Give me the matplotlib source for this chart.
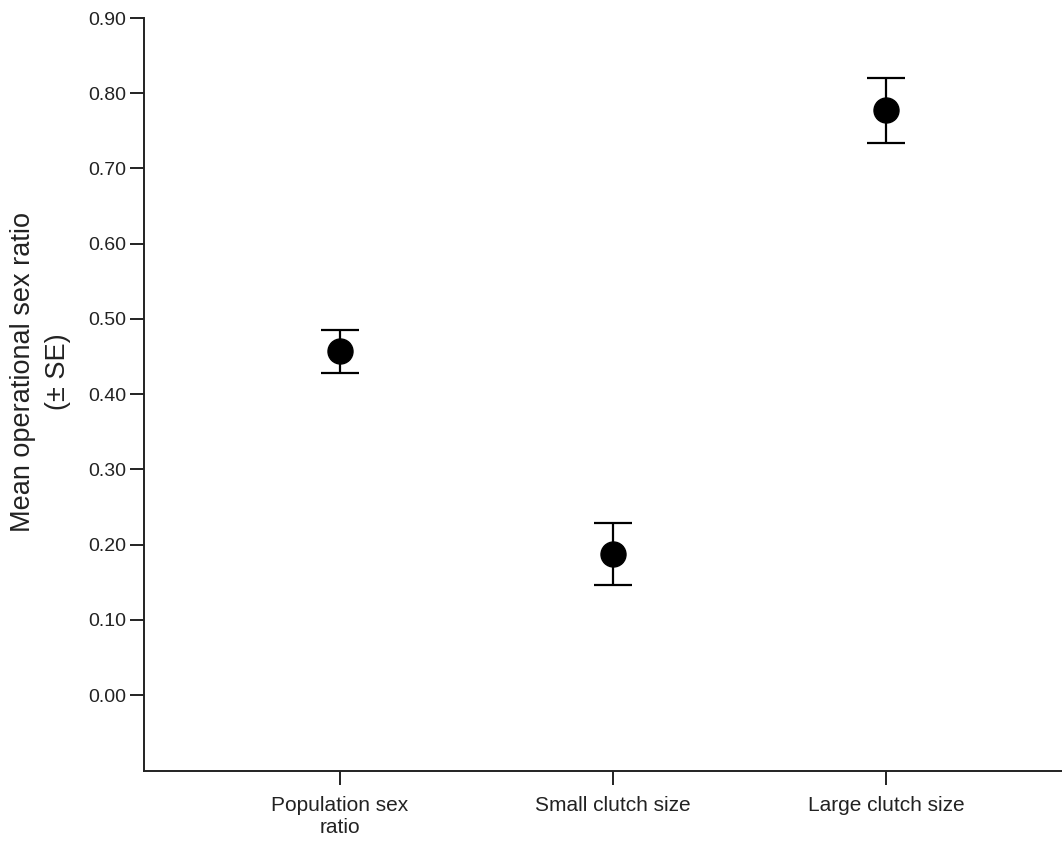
import matplotlib
matplotlib.use("Agg")
import matplotlib.pyplot as plt
from matplotlib.ticker import FormatStrFormatter

categories = ["Population sex\nratio", "Small clutch size", "Large clutch size"]
means = [0.457, 0.187, 0.778]
upper = [0.485, 0.229, 0.820]
lower = [0.428, 0.146, 0.734]
yticks = [0.0, 0.1, 0.2, 0.3, 0.4, 0.5, 0.6, 0.7, 0.8, 0.9]

plt.rcParams['font.family'] = ['Liberation Sans', 'DejaVu Sans']

fig = plt.figure(figsize=(10.62, 8.43), dpi=100)
ax = fig.add_axes([0.1356, 0.0854, 0.8644, 0.8932])

x = list(range(len(categories)))
err = [[m - l for m, l in zip(means, lower)], [u - m for m, u in zip(means, upper)]]
ax.errorbar(x, means, yerr=err, fmt='o', color='black', markersize=18,
            capsize=13.5, elinewidth=1.6, capthick=1.6)

ax.set_xlim(-0.718, 2.645)
ax.set_ylim(-0.101, 0.9)
ax.set_yticks(yticks)
ax.yaxis.set_major_formatter(FormatStrFormatter('%.2f'))
ax.set_xticks(x)
ax.set_xticklabels(categories)

for s in ['top', 'right']:
    ax.spines[s].set_visible(False)
for s in ['left', 'bottom']:
    ax.spines[s].set_linewidth(1.4)
    ax.spines[s].set_color('#222222')

ax.tick_params(axis='both', direction='out', length=10, width=1.4,
               colors='#222222', pad=3)
ax.tick_params(axis='y', labelsize=14)
ax.tick_params(axis='x', labelsize=15, pad=8)
ax.set_ylabel("Mean operational sex ratio\n(± SE)", fontsize=19.5, color='#222222',
              linespacing=1.45)
ax.yaxis.set_label_coords(-0.080, 0.53)

fig.savefig("out.png", dpi=100)
